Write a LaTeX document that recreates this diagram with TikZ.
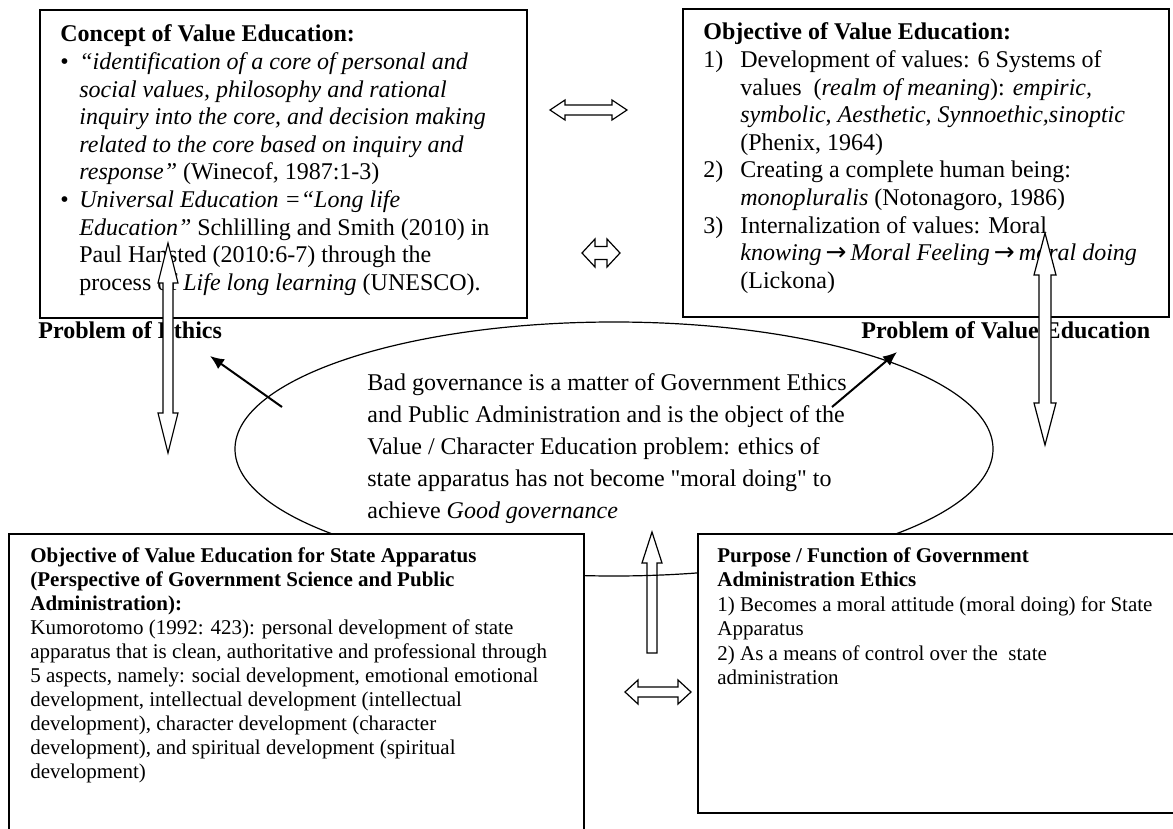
\documentclass[tikz,border=0pt]{standalone}
\usepackage{fontspec}
\setmainfont{Liberation Serif}[Ligatures=TeXOff]
\newfontfamily\arrowfont{DejaVu Sans}
\usetikzlibrary{arrows.meta,shapes.geometric}
\newcommand\vdarrow[6]{% cx, top, bottom, headlen, headhalf, shafthalf
  \draw[blk] (#1,#2) -- ({#1+#5},{#2+#4}) -- ({#1+#6},{#2+#4}) -- ({#1+#6},{#3-#4}) -- ({#1+#5},{#3-#4}) -- (#1,#3) -- ({#1-#5},{#3-#4}) -- ({#1-#6},{#3-#4}) -- ({#1-#6},{#2+#4}) -- ({#1-#5},{#2+#4}) -- cycle;}
\newcommand\hdarrow[6]{% xl, xr, cy, headlen, headhalf, shafthalf
  \draw[blk] (#1,#3) -- ({#1+#4},{#3-#5}) -- ({#1+#4},{#3-#6}) -- ({#2-#4},{#3-#6}) -- ({#2-#4},{#3-#5}) -- (#2,#3) -- ({#2-#4},{#3+#5}) -- ({#2-#4},{#3+#6}) -- ({#1+#4},{#3+#6}) -- ({#1+#4},{#3+#5}) -- cycle;}
\newcommand\implarrow{\hspace{2pt}{\arrowfont\fontsize{12.5}{13.8}\selectfont →}\hspace{2pt}}
\begin{document}
\begin{tikzpicture}[x=0.5pt,y=-0.5pt,
  box/.style={draw, line width=0.8pt, fill=white, inner sep=0pt, anchor=north west},
  blk/.style={draw, line width=0.6pt, fill=white, line join=miter},
  ptr/.style={-{Latex[length=7pt,width=6pt]}, line width=1pt},
  txt/.style={anchor=base west, inner sep=0pt}]
\useasboundingbox (0,0) rectangle (1173,829);

% up block arrow (under the ellipse line)
\draw[blk] (652,532) -- (662,563) -- (657,563) -- (657,653) -- (647,653) -- (647,563) -- (642,563) -- cycle;

% ellipse with its text
\node[draw, ellipse, line width=0.6pt, minimum width=379pt, minimum height=127pt, inner sep=0pt] (el) at (614,449) {};
\node[txt] (eltxt) at (367,390) {\fontsize{12}{16}\selectfont
\begin{tabular}[t]{@{}l@{}}
Bad governance is a matter of Government Ethics\\
and Public Administration and is the object of the\\
Value / Character Education problem: ethics of\\
state apparatus has not become "moral doing" to\\
achieve \textit{Good governance}
\end{tabular}};

% diagonal pointers
\coordinate (d1s) at (282,407);
\coordinate (d1e) at (210,356);
\coordinate (d2s) at (832,407);
\coordinate (d2e) at (897,352);
\draw[ptr] (d1s) -- (d1e);
\draw[ptr] (d2s) -- (d2e);

% boxes
\node[box, minimum width=243.5pt, minimum height=154pt] (tl) at (39,9) {};
\node[box, minimum width=243pt, minimum height=154pt] (tr) at (682,8) {};
\node[box, minimum width=287.5pt, minimum height=160pt] (bl) at (8,533) {};
\node[box, minimum width=250pt, minimum height=139.5pt, line width=0.9pt] (br) at (697,533) {};

% top-left text
\node[txt] (tltxt) at (60,42) {\fontsize{12}{13.8}\selectfont
\begin{tabular}[t]{@{}p{9.5pt}@{}l@{}}
\multicolumn{2}{@{}l@{}}{\textbf{Concept of Value Education:}}\\
\textbullet & \textit{“identification of a core of personal and}\\
 & \textit{social values, philosophy and rational}\\
 & \textit{inquiry into the core, and decision making}\\
 & \textit{related to the core based on inquiry and}\\
 & \textit{response”} (Winecof, 1987:1-3)\\
\textbullet & \textit{Universal Education =“Long life}\\
 & \textit{Education”} Schlilling and Smith (2010) in\\
 & Paul Hansted (2010:6-7) through the\\
 & process of \textit{Life long learning} (UNESCO).
\end{tabular}};

% top-right text
\node[txt] (trtxt) at (703,40) {\fontsize{12}{13.8}\selectfont
\begin{tabular}[t]{@{}p{18.5pt}@{}l@{}}
\multicolumn{2}{@{}l@{}}{\textbf{Objective of Value Education:}}\\
1) & Development of values: 6 Systems of\\
 & values \ (\textit{realm of meaning}): \textit{empiric,}\\
 & \textit{symbolic}, \textit{Aesthetic}, \textit{Synnoethic,sinoptic}\\
 & (Phenix, 1964)\\
2) & Creating a complete human being:\\
 & \textit{monopluralis} (Notonagoro, 1986)\\
3) & Internalization of values: Moral\\
 & \textit{knowing}\implarrow\textit{Moral Feeling}\implarrow\textit{moral doing}\\
 & (Lickona)
\end{tabular}};

% bottom-left text
\node[txt] (bltxt) at (30,562) {\fontsize{10.5}{12}\selectfont
\begin{tabular}[t]{@{}l@{}}
\textbf{Objective of Value Education for State Apparatus}\\
\textbf{(Perspective of Government Science and Public}\\
\textbf{Administration):}\\
Kumorotomo (1992: 423): personal development of state\\
apparatus that is clean, authoritative and professional through\\
5 aspects, namely: social development, emotional emotional\\
development, intellectual development (intellectual\\
development), character development (character\\
development), and spiritual development (spiritual\\
development)
\end{tabular}};

% bottom-right text
\node[txt] (brtxt) at (717,562) {\fontsize{10.5}{12.25}\selectfont
\begin{tabular}[t]{@{}l@{}}
\textbf{Purpose / Function of Government}\\
\textbf{Administration Ethics}\\
1) Becomes a moral attitude (moral doing) for State\\
Apparatus\\
2) As a means of control over the \ state\\
administration
\end{tabular}};

% problem labels
\node[txt, font=\fontsize{12}{13.8}\selectfont\bfseries] (pe) at (38,338) {Problem of Ethics};
\node[txt, font=\fontsize{12}{13.8}\selectfont\bfseries] (pv) at (861,338) {Problem of Value Education};

% block double arrows
\vdarrow{168}{243}{453}{40}{10}{5}
\vdarrow{1045}{233}{445}{42}{11}{6}
\hdarrow{550}{627}{110}{15}{10}{5}
\hdarrow{582}{620}{253}{13}{14}{6.5}
\hdarrow{625}{691}{692}{13}{12}{5}
\end{tikzpicture}
\end{document}
